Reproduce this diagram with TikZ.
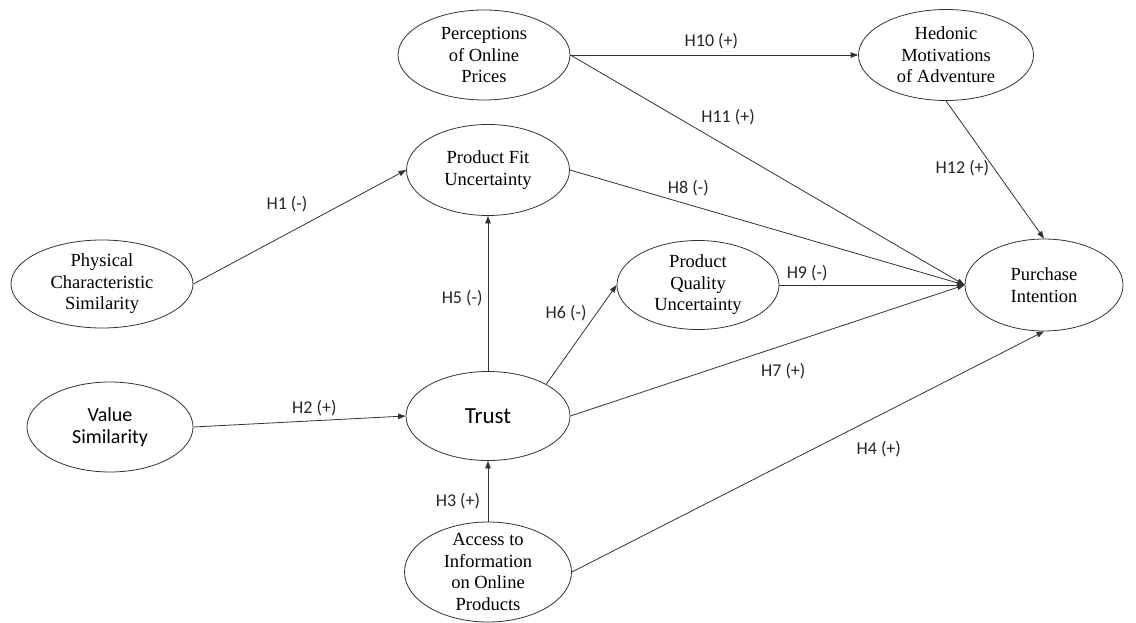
\documentclass[tikz,border=0pt]{standalone}
\usepackage{fontspec}
\setmainfont{Liberation Serif}
\newfontfamily\calibri{Carlito}
\usetikzlibrary{arrows.meta, positioning, shapes.geometric}

\begin{document}
\begin{tikzpicture}[
      x=1pt, y=-1pt,
      on grid,
      construct/.style={draw=black!80, line width=0.8pt, ellipse, inner sep=0pt, align=center, font=\fontsize{18.5}{21.5}\selectfont},
      sanscons/.style={construct, font=\calibri\fontsize{20}{22}\selectfont},
      arrow/.style={-{Triangle[length=7.5pt, width=5.5pt]}, line width=0.8pt, draw=black!80},
      hyp/.style={font=\calibri\fontsize{18}{20}\selectfont, inner sep=0pt, text=black!85}
    ]
    \useasboundingbox (0,0) rectangle (1136,623);

    \node[sanscons, minimum width=164pt, minimum height=89pt, font=\calibri\fontsize{23}{26}\selectfont] (trust) at (488,416) {Trust};

    \node[construct, above=246pt of trust, minimum width=163pt, minimum height=91pt] (fit) {Product Fit\\Uncertainty};
    \node[construct, below=156pt of trust, minimum width=167pt, minimum height=100pt, inner sep=-7pt] (access) {Access to\\Information\\on Online\\Products};

    \node[sanscons, below left=11pt and 378pt of trust, minimum width=166pt, minimum height=90pt] (value) {Value\\Similarity};
    \node[construct, above left=132pt and 386pt of trust, minimum width=182pt, minimum height=88pt] (phys) {Physical\\Characteristic\\Similarity};

    \node[construct, above right=131pt and 210pt of trust, minimum width=162pt, minimum height=89pt] (quality) {Product\\Quality\\Uncertainty};
    \node[construct, right=346pt of quality, minimum width=158pt, minimum height=92pt] (purchase) {Purchase\\Intention};

    \node[construct, above left=115pt and 4pt of fit, minimum width=172pt, minimum height=90pt] (prices) {Perceptions\\of Online\\Prices};
    \node[construct, right=462pt of prices, minimum width=175pt, minimum height=91pt] (hedonic) {Hedonic\\Motivations\\of Adventure};

    \draw[arrow] (phys.east) -- node[hyp, pos=.44, above=21pt] {H1 (-)} (fit.west);
    \draw[arrow] (value.east) -- node[hyp, pos=.57, above=4pt] {H2 (+)} (trust.west);
    \draw[arrow] (access.north) -- node[hyp, pos=.33, left=7.5pt] {H3 (+)} (trust.south);
    \draw[arrow] (access.east) -- node[hyp, pos=.65, below=25pt] {H4 (+)} (purchase.south);
    \draw[arrow] (trust.north) -- node[hyp, pos=.47, left=5pt] {H5 (-)} (fit.south);
    \draw[arrow] (trust.north east) -- node[hyp, pos=.72, left=10pt] {H6 (-)} (quality.west);
    \draw[arrow] (trust.east) -- node[hyp, pos=.54, below=18pt] {H7 (+)} (purchase.west);
    \draw[arrow] (fit.east) -- node[hyp, pos=.3, above=8pt] {H8 (-)} (purchase.west);
    \draw[arrow] (quality.east) -- node[hyp, pos=.15, above=4pt] {H9 (-)} (purchase.west);
    \draw[arrow] (prices.east) -- node[hyp, pos=.49, above=6pt] {H10 (+)} (hedonic.west);
    \draw[arrow] (prices.east) -- node[hyp, pos=.4, above=22pt] {H11 (+)} (purchase.west);
    \draw[arrow] (hedonic.south) -- node[hyp, pos=.49, left=4.5pt] {H12 (+)} (purchase.north);

    \end{tikzpicture}
\end{document}
